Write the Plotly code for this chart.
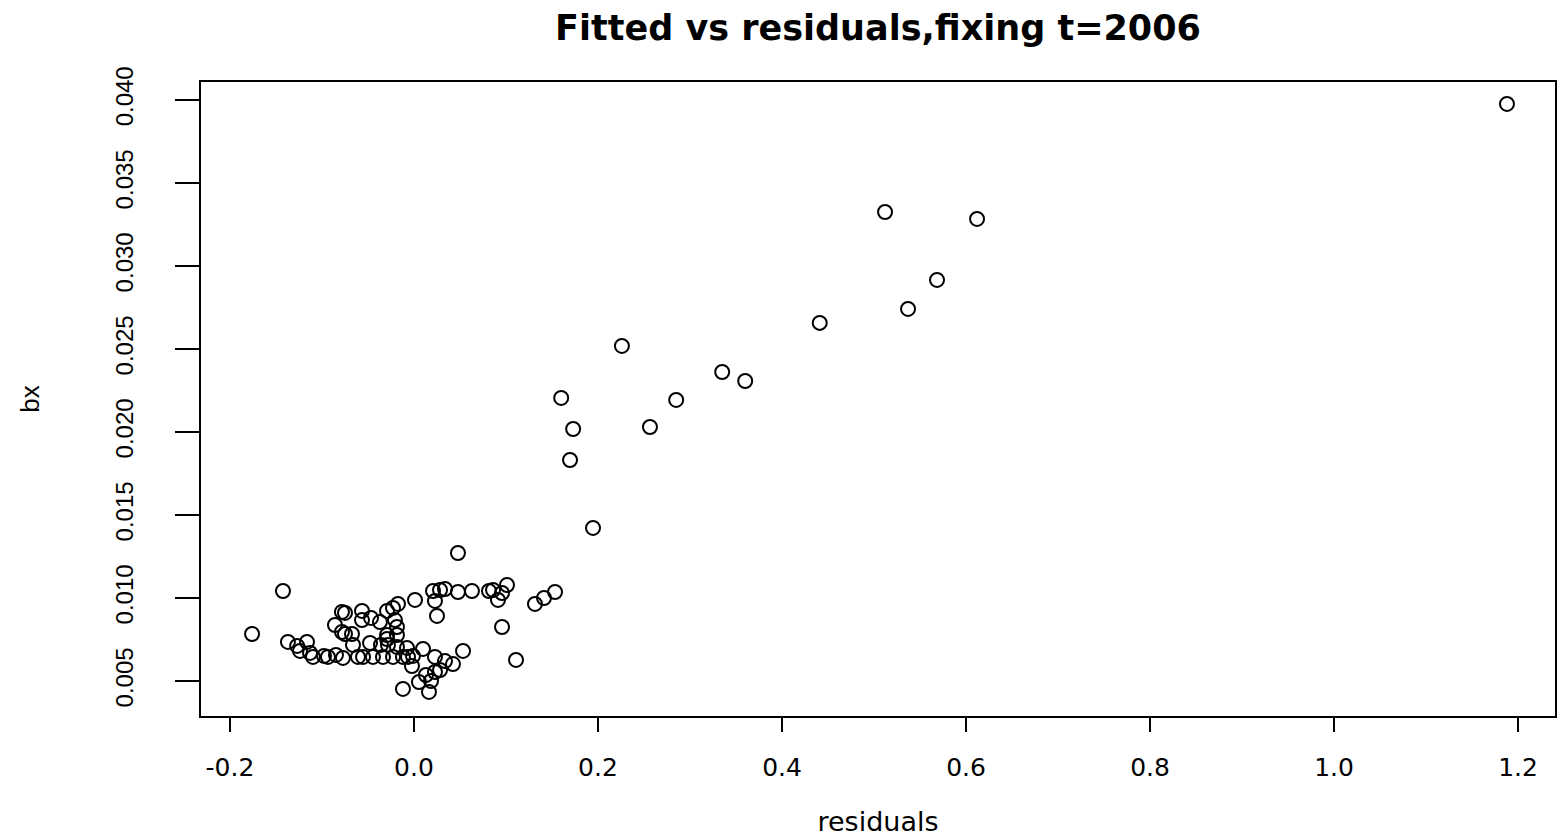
import plotly.graph_objects as go

# residuals (x) and bx (y)
residuals = [
    1.188, 0.512, 0.612, 0.5685, 0.537, 0.441, 0.226, 0.335, 0.360, 0.160,
    0.285, 0.173, 0.2565, 0.1696, 0.1946, 0.0478,
    -0.176, -0.1424, -0.137, -0.127, -0.1163, -0.1239, -0.113, -0.1098, -0.0978, -0.0935,
    -0.0848, -0.0772, -0.0859, -0.0783, -0.075, -0.0783, -0.075, -0.0674, -0.0663, -0.0609,
    -0.0554, -0.0565, -0.0565, -0.0467, -0.037, -0.0478, -0.0446, -0.0337, -0.0293, -0.0228,
    -0.0174, -0.0207, -0.0185, -0.0293, -0.0293, -0.0185, -0.0359, -0.0283, -0.0185, -0.0076,
    -0.0228, -0.012, -0.0065, -0.0011, 0.0011, 0.0098, -0.0022, 0.0207, 0.0283, 0.0337,
    0.0478, 0.063, 0.0228, 0.025, 0.0228, 0.0337, 0.0424, 0.0283, 0.0228, 0.013,
    0.0054, 0.0185, -0.012, 0.0163, 0.0533, 0.0815, 0.0859, 0.1011, 0.0957, 0.0913,
    0.1533, 0.1413, 0.1315, 0.0957, 0.1109,
]
bx = [
    0.03976, 0.03325, 0.03283, 0.02916, 0.02741, 0.02657, 0.02518, 0.02361, 0.02307, 0.02205,
    0.02193, 0.02018, 0.0203, 0.01831, 0.01422, 0.01271,
    0.00783, 0.01042, 0.00735, 0.00711, 0.00735, 0.00681, 0.00669, 0.00645, 0.00651, 0.00645,
    0.00657, 0.00639, 0.00837, 0.00916, 0.0091, 0.00795, 0.00783, 0.00783, 0.00717, 0.00645,
    0.00645, 0.00922, 0.00867, 0.0088, 0.00855, 0.00729, 0.00645, 0.00645, 0.00922, 0.0094,
    0.00964, 0.00867, 0.00825, 0.00777, 0.00753, 0.00777, 0.00717, 0.00717, 0.00705, 0.00699,
    0.00645, 0.00645, 0.00645, 0.00651, 0.00988, 0.00693, 0.0059, 0.01042, 0.01048, 0.01054,
    0.01036, 0.01042, 0.00982, 0.00892, 0.00645, 0.0062, 0.00602, 0.00566, 0.00554, 0.00536,
    0.00494, 0.005, 0.00452, 0.00434, 0.00681, 0.01042, 0.01048, 0.01078, 0.0103, 0.00988,
    0.01036, 0.01, 0.00964, 0.00825, 0.00627,
]

x_ticks = [-0.2, 0.0, 0.2, 0.4, 0.6, 0.8, 1.0, 1.2]
x_tick_labels = ["-0.2", "0.0", "0.2", "0.4", "0.6", "0.8", "1.0", "1.2"]
y_ticks = [0.005, 0.010, 0.015, 0.020, 0.025, 0.030, 0.035, 0.040]
y_tick_labels = ["0.005", "0.010", "0.015", "0.020", "0.025", "0.030", "0.035", "0.040"]

FONT = "Liberation Sans, Arial, sans-serif"
WIDE = "DejaVu Sans, Liberation Sans, sans-serif"

fig = go.Figure(
    go.Scatter(
        x=residuals, y=bx, mode="markers",
        marker=dict(symbol="circle-open", size=14, color="black",
                    line=dict(color="black", width=2)),
        showlegend=False,
    )
)

fig.update_layout(
    width=1557, height=837,
    paper_bgcolor="white", plot_bgcolor="white",
    margin=dict(l=201, r=2, t=82, b=121),
    font=dict(family=FONT, color="black"),
    title=dict(text="<b>Fitted vs residuals,fixing t=2006</b>",
               x=(201 + 1555) / 2 / 1557, xanchor="center",
               y=1 - 28 / 837, yanchor="middle",
               font=dict(size=35, family=WIDE, color="black")),
)

fig.update_xaxes(
    range=[-0.2315, 1.2402], tickvals=x_ticks, ticktext=x_tick_labels,
    showgrid=False, zeroline=False,
    showline=True, mirror=True, linecolor="black", linewidth=2,
    ticks="outside", ticklen=14, tickwidth=2, tickcolor="black",
    tickfont=dict(size=25, family=WIDE), ticklabelstandoff=14,
    title=dict(text="residuals", font=dict(size=27, family=WIDE), standoff=36),
    automargin=False,
)
fig.update_yaxes(
    range=[0.00289, 0.04108], tickvals=y_ticks, ticktext=y_tick_labels,
    showgrid=False, zeroline=False,
    showline=True, mirror=True, linecolor="black", linewidth=2,
    ticks="outside", ticklen=24, tickwidth=2, tickcolor="black",
    tickangle=-90,
    tickfont=dict(size=24, family=FONT), ticklabelstandoff=32,
    title=dict(text="bx", font=dict(size=26, family=FONT), standoff=64),
    automargin=False,
)

fig.write_html("out.html", config={"displayModeBar": False},
               post_script="document.body.style.margin='0';")
